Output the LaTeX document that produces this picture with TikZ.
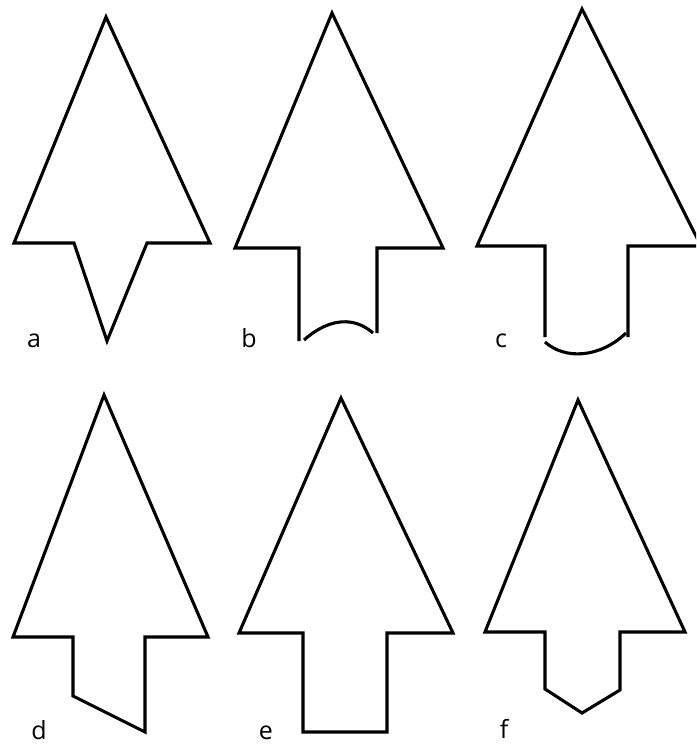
\documentclass[tikz,border=0pt]{standalone}
\usepackage{fontspec}
\setmainfont{Open Sans}
\tikzset{
  shp/.style={draw=black, line width=3.1pt, line join=miter},
  lbl/.style={anchor=base, inner sep=0pt, font=\fontsize{25}{30}\selectfont}
}
\begin{document}
\begin{tikzpicture}[x=1pt,y=-1pt]
\useasboundingbox (0,0) rectangle (696,746);
\clip (0,0) rectangle (696,746);
\fill[white] (0,0) rectangle (696,746);
% a
\draw[shp] (14,243)--(106,17)--(210,243)--(147,243)--(107,341)--(74,243)--cycle;
% b
\draw[shp] (299,341)--(299,248)--(235,248)--(332,13)--(443,248)--(377,248)--(377,333);
\draw[shp] (304,340) .. controls (330,317) and (355,317) .. (373,333);
% c
\draw[shp] (545,337)--(545,246)--(477,246)--(582,9)--(701,246)--(628,246)--(628,337);
\draw[shp] (545,342) .. controls (565,360) and (600,358) .. (626,333);
% d
\draw[shp] (13,637)--(104,395)--(208,637)--(145,637)--(145,732)--(73,696)--(73,637)--cycle;
% e
\draw[shp] (239,633)--(341,398)--(453,633)--(387,633)--(387,732)--(303,732)--(303,633)--cycle;
% f
\draw[shp] (485,632)--(578,400)--(685,632)--(620,632)--(620,690)--(582,713)--(545,689)--(545,632)--cycle;
% labels
\node[lbl] (la) at (34,347) {a};
\node[lbl] (lb) at (249,347) {b};
\node[lbl] (lc) at (501,347) {c};
\node[lbl] (ld) at (39,739) {d};
\node[lbl] (le) at (266,739) {e};
\node[lbl] (lf) at (504,738) {f};
\end{tikzpicture}
\end{document}
